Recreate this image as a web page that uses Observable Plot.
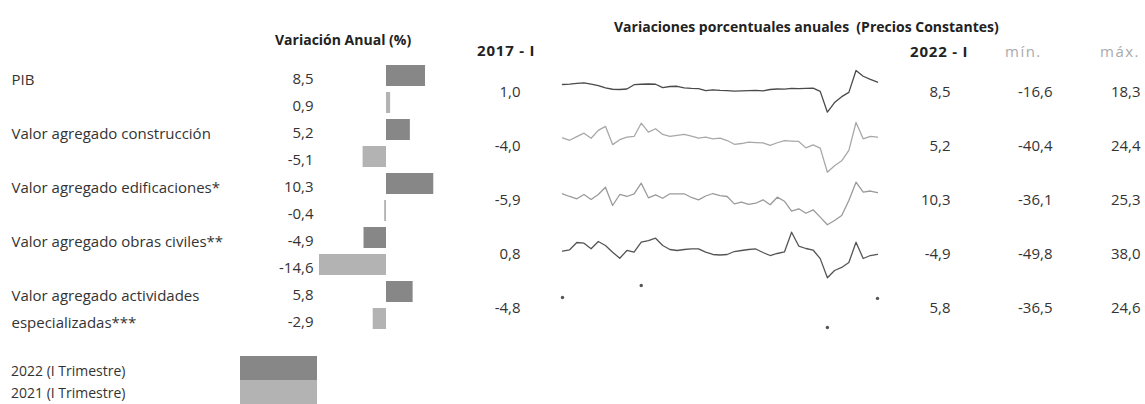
<!DOCTYPE html>
<html><head><meta charset="utf-8">
<script src="https://cdn.jsdelivr.net/npm/d3@7"></script>
<script src="https://cdn.jsdelivr.net/npm/@observablehq/plot@0.6"></script>
<style>
body{margin:0;background:#fff;font-family:"Open Sans",sans-serif;color:#333}
#root{position:relative;width:1145px;height:404px;overflow:hidden;background:#fff}
#root svg{position:absolute;left:0;top:0;background:transparent}
.t{position:absolute;white-space:pre;line-height:20px;height:20px}
.b{font-weight:bold}
</style></head><body><div id="root"></div>
<script>
// ---------- data ----------
const labelLines = [["PIB"],["Valor agregado construcción"],["Valor agregado edificaciones*"],["Valor agregado obras civiles**"],["Valor agregado actividades","especializadas***"]];
const periods = ["2022 (I Trimestre)","2021 (I Trimestre)"];
const var2022 = [8.5, 5.2, 10.3, -4.9, 5.8];
const var2021 = [0.9, -5.1, -0.4, -14.6, -2.9];
const first2017 = [1.0, -4.0, -5.9, 0.8, -4.8];
const last2022 = [8.5, 5.2, 10.3, -4.9, 5.8];
const minVals = [-16.6, -40.4, -36.1, -49.8, -36.5];
const maxVals = [18.3, 24.4, 25.3, 38.0, 24.6];
const tableHeaders = ["2017 - I", "2022 - I", "mín.", "máx."];
// quarterly annual variation, 2011-I ... 2022-I (45 quarters)
const pib = [6.6, 6.9, 7.6, 8.0, 6.9, 5.7, 3.7, 2.6, 2.4, 2.8, 6.4, 6.8, 7.0, 6.8, 4.0, 4.9, 5.1, 3.8, 3.4, 3.2, 1.5, 2.1, 1.7, 1.5, 1.0, 1.3, 1.5, 1.6, 1.2, 2.4, 2.8, 2.7, 3.4, 3.2, 3.4, 3.5, 0.8, -16.6, -8.5, -3.6, 0.0, 18.3, 13.5, 10.8, 8.5];
const construccion = [4.5, 1.2, 6.0, 10.5, 3.9, 14.1, 19.4, -4.4, 2.0, 5.3, 6.2, 23.5, 11.9, 16.3, 8.8, 6.2, 7.5, 8.8, 6.5, 3.9, 5.3, 3.0, 3.9, 0.9, -4.0, -3.0, -1.3, -1.8, -2.1, -5.5, -2.0, 0.9, 0.2, -0.3, -8.7, -4.8, -9.0, -40.4, -32.1, -25.5, -12.0, 24.4, 3.1, 6.2, 5.2];
const edificaciones = [8.6, 4.7, 1.4, 7.6, 0.4, 7.6, 18.1, -8.3, 7.6, 4.7, 8.6, 23.9, 2.8, 7.1, 2.2, 8.6, 8.6, 8.6, 3.3, -0.1, 5.4, 9.0, 6.1, 4.7, -5.9, -3.5, -6.8, -5.0, -0.1, -7.3, 3.7, -2.1, -16.5, -13.0, -19.4, -14.5, -25.1, -36.1, -29.9, -22.7, -1.1, 25.3, 10.9, 12.6, 10.3];
const obras = [1.4, 4.1, 18.2, 16.8, 6.0, 20.1, 12.4, -0.5, -12.1, 2.8, -0.5, 18.8, 22.0, 26.5, 12.4, 4.7, 2.8, 4.7, 6.0, 6.0, -0.5, -4.9, -5.9, -4.9, 0.8, 2.8, 4.7, 5.7, -1.1, -6.9, -3.0, -0.1, 38.0, 11.4, 6.6, 3.7, -12.9, -49.8, -35.7, -29.9, -20.3, 18.8, -12.6, -6.9, -4.9];
// actividades especializadas: only the marker points are visible
const actIdx = [0, 11, 37, 44];
const actVal = [7.1, 24.6, -36.5, 5.8];

// ---------- helpers ----------
const fmt = v => v.toFixed(1).replace(".", ",");
const root = document.getElementById("root");
const FONT = '"Open Sans", sans-serif';
function addText(txt, left, cy, cls, style) {
  const d = document.createElement("div");
  d.className = "t " + (cls || "");
  d.textContent = txt;
  d.style.left = left + "px";
  d.style.top = (cy - 10) + "px";
  Object.assign(d.style, style || {});
  root.appendChild(d);
  return d;
}

// ---------- left: bars ----------
const rows = [];
var2022.forEach((v, k) => {
  rows.push({row: 2 * k, period: periods[0], value: v});
  rows.push({row: 2 * k + 1, period: periods[1], value: var2021[k]});
});
const labelRows = [];
labelLines.forEach((lines, k) => lines.forEach((l, j) => labelRows.push({row: 2 * k + j, label: l})));
const xmax = d3.max(var2022.concat(var2021), Math.abs);

const barPlot = Plot.plot({
  width: 1145, height: 404, margin: 0,
  style: {fontFamily: FONT, background: "transparent"},
  x: {domain: [-xmax, xmax], range: [319, 453], clamp: true, axis: null},
  y: {domain: d3.range(10), range: [62.5, 332.5], paddingInner: 0.22, paddingOuter: 0.11, axis: null},
  color: {domain: periods, range: ["#878787", "#b3b3b3"]},
  marks: [
    Plot.barX(rows, {x: "value", y: "row", fill: "period"}),
    Plot.text(rows, {x: () => -xmax, y: "row", text: d => fmt(d.value), textAnchor: "end", dx: -6, dy: 3, fontSize: 15, fill: "#333"}),
    Plot.text(labelRows, {frameAnchor: "left", y: "row", text: "label", textAnchor: "start", dx: 11, dy: 4, fontSize: 15, fill: "#333"})
  ]
});
root.appendChild(barPlot);

// ---------- sparklines ----------
const sparkSeries = [pib, construccion, edificaciones, obras];
const sparkColors = ["#4a4a4a", "#a8a8a8", "#9a9a9a", "#555555"];
const bands = [[111.7, 70], [171.7, 122], [224.3, 181.7], [277.3, 231.7], [327, 285]];
sparkSeries.forEach((s, k) => {
  const p = Plot.plot({
    width: 1145, height: 404, margin: 0,
    style: {background: "transparent"},
    x: {domain: [0, 44], range: [562, 877], axis: null},
    y: {domain: [minVals[k], maxVals[k]], range: bands[k], axis: null},
    marks: [Plot.lineY(s, {x: (d, i) => i, y: d => d, stroke: sparkColors[k], strokeWidth: 1.3})]
  });
  root.appendChild(p);
});
{
  const pts = actIdx.map((i, j) => ({i, v: actVal[j]}));
  const p = Plot.plot({
    width: 1145, height: 404, margin: 0,
    style: {background: "transparent"},
    x: {domain: [0, 44], range: [562, 877], axis: null},
    y: {domain: [minVals[4], maxVals[4]], range: bands[4], axis: null},
    marks: [Plot.dot(pts, {x: "i", y: "v", r: 1.7, fill: "#555", stroke: "none"})]
  });
  root.appendChild(p);
}

// ---------- right: value table ----------
const tableRows = [];
first2017.forEach((v, k) => {
  tableRows.push({col: 0, row: k, v});
  tableRows.push({col: 1, row: k, v: last2022[k]});
  tableRows.push({col: 2, row: k, v: minVals[k]});
  tableRows.push({col: 3, row: k, v: maxVals[k]});
});
const tablePlot = Plot.plot({
  width: 1145, height: 404, margin: 0,
  style: {fontFamily: FONT, background: "transparent"},
  x: {type: "linear", domain: [0, 1, 2, 3], range: [520, 950, 1052, 1140], axis: null},
  y: {type: "point", domain: d3.range(5), range: [91, 309], padding: 0, axis: null},
  marks: [
    Plot.text(tableRows, {x: "col", y: "row", text: d => fmt(d.v), textAnchor: "end", fontSize: 15, fill: "#333"})
  ]
});
root.appendChild(tablePlot);

// ---------- titles & headers ----------
addText("Variación Anual (%)", 275, 40, "b", {fontSize: "14px", color: "#222"});
addText("Variaciones porcentuales anuales  (Precios Constantes)", 614, 27, "b", {fontSize: "14px", color: "#222"});
addText(tableHeaders[0], 477, 50, "b", {fontSize: "15px", color: "#222", letterSpacing: "0.8px"});
addText(tableHeaders[1], 910, 51, "b", {fontSize: "15px", color: "#222", letterSpacing: "0.8px"});
addText(tableHeaders[2], 1005, 51, "", {fontSize: "15px", color: "#aaa", letterSpacing: "1.5px"});
addText(tableHeaders[3], 1100, 51, "", {fontSize: "15px", color: "#aaa", letterSpacing: "1.5px"});

// ---------- legend ----------
const legColors = ["#878787", "#b3b3b3"];
periods.forEach((p, j) => {
  const sw = document.createElement("div");
  sw.style.cssText = `position:absolute;left:240px;top:${356 + 24 * j}px;width:77px;height:24px;background:${legColors[j]}`;
  root.appendChild(sw);
  addText(p, 11, 371 + 22 * j, "", {fontSize: "14px", color: "#333"});
});
</script></body></html>
